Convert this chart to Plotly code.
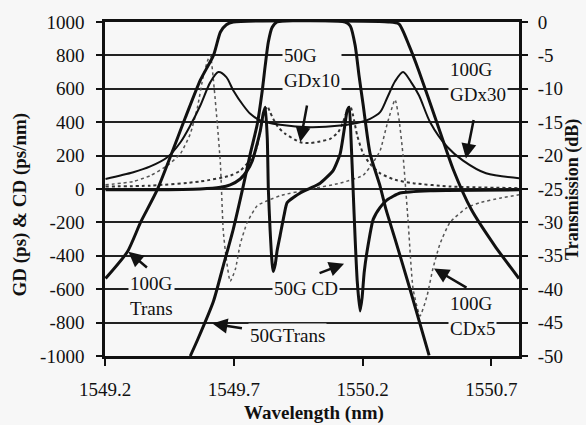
import plotly.graph_objects as go

# ---------------- data ----------------
# 100G filter transmission (dB, right axis)
wl_trans100 = [1549.202, 1549.287, 1549.338, 1549.403, 1549.512, 1549.570, 1549.621, 1549.648,
               1549.671, 1549.698, 1550.300, 1550.341, 1550.380, 1550.419, 1550.485, 1550.551,
               1550.621, 1550.713, 1550.807]
trans100_db = [-38.4, -34.4, -30.0, -25.1, -14.3, -8.7, -5.0, -1.5,
               -0.4, 0.0, 0.0, -0.3, -3.5, -7.4, -14.7, -22.0,
               -28.0, -33.5, -38.4]

# 50G filter transmission (dB, right axis)
wl_trans50 = [1549.531, 1549.559, 1549.621, 1549.659, 1549.698, 1549.737, 1549.764, 1549.791,
              1549.810, 1549.822, 1549.834, 1549.849, 1549.868, 1550.132, 1550.152, 1550.171,
              1550.186, 1550.202, 1550.229, 1550.268, 1550.291, 1550.326, 1550.384, 1550.458]
trans50_db = [-50.0, -47.6, -41.8, -36.5, -31.0, -24.5, -19.7, -15.3,
              -10.4, -6.5, -3.0, -0.8, 0.0, 0.0, -0.6, -3.5,
              -8.0, -12.4, -19.7, -24.6, -28.1, -32.5, -40.0, -49.9]

# 100G group delay x30 (ps)
wl_gd100 = [1549.202, 1549.310, 1549.376, 1549.442, 1549.493, 1549.531, 1549.570, 1549.609,
            1549.640, 1549.671, 1549.698, 1549.737, 1549.764, 1549.803, 1549.880, 1549.997,
            1550.113, 1550.190, 1550.229, 1550.268, 1550.295, 1550.326, 1550.357, 1550.388,
            1550.419, 1550.462, 1550.528, 1550.590, 1550.679, 1550.807]
gd100 = [60, 100, 135, 190, 280, 380, 500, 640,
         700, 670, 590, 500, 450, 410, 385, 370,
         380, 400, 420, 460, 545, 645, 700, 640,
         560, 400, 253, 170, 94, 65]

# 50G group delay x10 (ps)
wl_gd50 = [1549.202, 1549.376, 1549.570, 1549.686, 1549.725, 1549.756, 1549.776, 1549.791,
           1549.803, 1549.814, 1549.830, 1549.841, 1549.853, 1549.872, 1549.900, 1549.958,
           1549.997, 1550.035, 1550.074, 1550.105, 1550.124, 1550.140, 1550.152, 1550.163,
           1550.179, 1550.202, 1550.229, 1550.268, 1550.326, 1550.396, 1550.539, 1550.807]
gd50 = [15, 20, 45, 80, 110, 160, 200, 260,
        350, 440, 495, 460, 420, 370, 330, 280,
        275, 285, 300, 340, 400, 470, 495, 440,
        320, 212, 150, 94, 55, 35, 15, 5]

# 100G chromatic dispersion x5 (ps/nm)
wl_cd100 = [1549.202, 1549.310, 1549.376, 1549.442, 1549.493, 1549.531, 1549.559, 1549.582,
            1549.601, 1549.609, 1549.624, 1549.636, 1549.648, 1549.659, 1549.671, 1549.686,
            1549.706, 1549.725, 1549.752, 1549.791, 1549.830, 1549.880, 1549.997, 1550.113,
            1550.202, 1550.237, 1550.268, 1550.295, 1550.326, 1550.341, 1550.357, 1550.376,
            1550.396, 1550.423, 1550.450, 1550.473, 1550.500, 1550.539, 1550.605, 1550.655,
            1550.733, 1550.807]
cd100 = [25, 45, 80, 140, 212, 330, 490, 680,
         780, 800, 600, 390, 150, -250, -420, -553,
         -480, -330, -200, -100, -70, -40, 0, 35,
         82, 150, 230, 388, 535, 420, 200, -180,
         -600, -760, -640, -476, -330, -200, -112, -82,
         -55, -35]

# 50G chromatic dispersion (ps/nm)
wl_cd50 = [1549.202, 1549.376, 1549.570, 1549.648, 1549.686, 1549.725, 1549.752, 1549.772,
           1549.787, 1549.803, 1549.814, 1549.822, 1549.830, 1549.834, 1549.841, 1549.849,
           1549.853, 1549.861, 1549.868, 1549.880, 1549.896, 1549.907, 1549.958, 1549.997,
           1550.035, 1550.086, 1550.113, 1550.128, 1550.140, 1550.148, 1550.155, 1550.163,
           1550.171, 1550.179, 1550.190, 1550.198, 1550.206, 1550.217, 1550.241, 1550.268,
           1550.295, 1550.345, 1550.462, 1550.807]
cd50 = [-5, -5, 0, 10, 25, 60, 110, 170,
        250, 350, 450, 490, 300, 0, -250, -450,
        -494, -450, -370, -276, -150, -82, -24, 5,
        35, 112, 212, 350, 470, 490, 300, 0,
        -300, -550, -730, -650, -500, -376, -182, -110,
        -65, -24, -10, -5]

x_tickvals = [1549.2, 1549.7, 1550.2, 1550.7]
x_ticktext = ["1549.2", "1549.7", "1550.2", "1550.7"]
y_tickvals = [-1000, -800, -600, -400, -200, 0, 200, 400, 600, 800, 1000]
y_ticktext = ["-1000", "-800", "-600", "-400", "-200", "0", "200", "400", "600", "800", "1000"]
y2_tickvals = [-50, -45, -40, -35, -30, -25, -20, -15, -10, -5, 0]
y2_ticktext = ["-50", "-45", "-40", "-35", "-30", "-25", "-20", "-15", "-10", "-5", "0"]

# ---------------- figure ----------------
FONT = "Liberation Serif"
BG = "#f7f7f7"
INK = "#111111"

fig = go.Figure()
fig.add_trace(go.Scatter(x=wl_gd50, y=gd50, mode="lines", name="50G GDx10",
                         line=dict(color="#333333", width=2, dash="dot", shape="spline", smoothing=0.6)))
fig.add_trace(go.Scatter(x=wl_cd100, y=cd100, mode="lines", name="100G CDx5",
                         line=dict(color="#555555", width=1.5, dash="dot", shape="spline", smoothing=0.5)))
fig.add_trace(go.Scatter(x=wl_gd100, y=gd100, mode="lines", name="100G GDx30",
                         line=dict(color=INK, width=2, shape="spline", smoothing=0.8)))
fig.add_trace(go.Scatter(x=wl_cd50, y=cd50, mode="lines", name="50G CD",
                         line=dict(color=INK, width=3, shape="spline", smoothing=0.5)))
fig.add_trace(go.Scatter(x=wl_trans100, y=trans100_db, mode="lines", name="100G Trans", yaxis="y2",
                         line=dict(color=INK, width=3, shape="spline", smoothing=0.6)))
fig.add_trace(go.Scatter(x=wl_trans50, y=trans50_db, mode="lines", name="50G Trans", yaxis="y2",
                         line=dict(color=INK, width=3, shape="spline", smoothing=0.6)))

tickfont = dict(family=FONT, size=19, color=INK)
fig.update_layout(
    width=586, height=425,
    margin=dict(l=105, r=67, t=16, b=69),
    paper_bgcolor=BG, plot_bgcolor=BG,
    showlegend=False,
    xaxis=dict(range=[1549.2, 1550.807], tickvals=x_tickvals, ticktext=x_ticktext,
               ticks="outside", ticklen=7, tickwidth=1.5, tickcolor=INK,
               showline=True, linewidth=2.5, linecolor=INK, mirror=True,
               showgrid=False, zeroline=False, tickfont=tickfont, ticklabelstandoff=7),
    yaxis=dict(range=[-1000, 1000], tickvals=y_tickvals, ticktext=y_ticktext,
               ticks="outside", ticklen=6, tickwidth=1.5, tickcolor=INK,
               showline=True, linewidth=2.5, linecolor=INK, mirror=True,
               showgrid=True, gridcolor="#222222", gridwidth=1.6, zeroline=False,
               tickfont=tickfont, ticklabelstandoff=8),
    yaxis2=dict(range=[-50, 0], tickvals=y2_tickvals, ticktext=y2_ticktext,
                overlaying="y", side="right",
                ticks="outside", ticklen=6, tickwidth=1.5, tickcolor=INK,
                showline=True, linewidth=3, linecolor=INK,
                showgrid=False, zeroline=False, tickfont=tickfont, ticklabelstandoff=6),
)

annfont = dict(family=FONT, size=19, color=INK)
titlefont = dict(family=FONT, size=19, color=INK)

# text labels
labels = [
    ("50G<br>GDx10", 1549.888, 726),
    ("100G<br>GDx30", 1550.531, 638),
    ("100G<br>Trans", 1549.291, -641),
    ("50G CD", 1549.849, -594),
    ("50GTrans", 1549.756, -876),
    ("100G<br>CDx5", 1550.531, -762),
]
for txt, lx, ly in labels:
    fig.add_annotation(x=lx, y=ly, text=txt, showarrow=False, xanchor="left", yanchor="middle",
                       align="left", font=annfont, bgcolor=BG, borderpad=1)

# arrows (head position in data coords, tail offset in px)
arrows = [
    (1549.958, 282, 7, -38),
    (1550.601, 182, 8, -40),
    (1549.291, -376, 20, 17),
    (1550.128, -447, -26, 10),
    (1549.617, -806, 31, 5),
    (1550.477, -476, 34, 20),
]
for hx, hy, ax, ay in arrows:
    fig.add_annotation(x=hx, y=hy, ax=ax, ay=ay, text="", showarrow=True,
                       arrowhead=2, arrowsize=1.2, arrowwidth=2.5, arrowcolor=INK, standoff=0)

# axis titles
fig.add_annotation(xref="paper", yref="paper", x=0.505, y=-0.172, text="<b>Wavelength (nm)</b>",
                   showarrow=False, font=titlefont, xanchor="center", yanchor="middle")
fig.add_annotation(xref="paper", yref="paper", x=-0.205, y=0.454, text="<b>GD (ps) & CD (ps/nm)</b>",
                   showarrow=False, font=titlefont, textangle=-90, xanchor="center", yanchor="middle")
fig.add_annotation(xref="paper", yref="paper", x=1.128, y=0.5, text="<b>Transmission (dB)</b>",
                   showarrow=False, font=dict(family=FONT, size=18, color=INK),
                   textangle=-90, xanchor="center", yanchor="middle")

fig.write_html("out.html")
